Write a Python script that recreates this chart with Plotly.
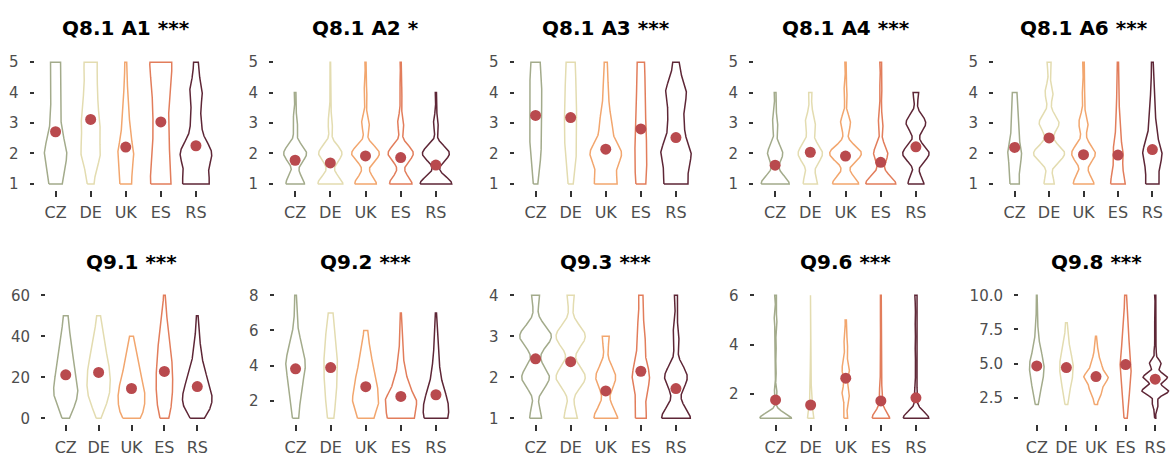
import numpy as np
import plotly.graph_objects as go

# ---------------------------------------------------------------- data
countries = ["CZ", "DE", "UK", "ES", "RS"]

panel_titles = ["Q8.1 A1 ***", "Q8.1 A2 *", "Q8.1 A3 ***", "Q8.1 A4 ***", "Q8.1 A6 ***",
                "Q9.1 ***", "Q9.2 ***", "Q9.3 ***", "Q9.6 ***", "Q9.8 ***"]

# answer levels of each question
likert5_levels = [1, 2, 3, 4, 5]
q91_levels = [0, 5, 10, 15, 20, 25, 30, 35, 40, 45, 50, 55, 60]
q92_levels = [1, 2, 3, 4, 5, 6, 7, 8]
q93_levels = [1, 2, 3, 4]
q96_levels = [1, 2, 3, 4, 5, 6]
q98_levels = [1, 2, 3, 4, 5, 6, 7, 8, 9, 10]

# number of respondents per answer level, one row per country (CZ, DE, UK, ES, RS)
q81_a1_counts = [[22, 40, 16, 16, 18], [10, 32, 30, 22, 22], [19, 26, 12, 6, 3],
                 [38, 28, 25, 28, 41], [42, 50, 15, 20, 7]]
q81_a2_counts = [[35, 43, 9, 3, 0], [46, 43, 8, 2, 1], [39, 50, 14, 5, 2],
                 [41, 46, 11, 5, 2], [54, 46, 8, 2, 0]]
q81_a3_counts = [[6, 16, 18, 18, 14], [7, 17, 18, 16, 14], [30, 42, 16, 8, 4],
                 [16, 18, 14, 12, 12], [34, 43, 21, 30, 8]]
q81_a4_counts = [[48, 26, 9, 3, 0], [27, 46, 19, 6, 0], [42, 51, 16, 5, 2],
                 [51, 24, 8, 4, 3], [26, 43, 32, 9, 0]]
q81_a6_counts = [[16, 24, 12, 8, 0], [13, 39, 25, 10, 5], [27, 31, 12, 3, 2],
                 [25, 17, 8, 4, 2], [23, 34, 12, 6, 3]]
q91_counts = [[2, 8, 12, 12, 10, 8, 7, 5, 4, 3, 3, 0, 0],
              [1, 6, 10, 11, 11, 10, 8, 6, 4, 3, 2, 0, 0],
              [10, 12, 13, 12, 9, 7, 5, 3, 2, 0, 0, 0, 0],
              [5, 7, 7, 8, 8, 7, 7, 6, 5, 3, 2, 1, 1],
              [6, 14, 15, 12, 9, 6, 4, 3, 2, 1, 1, 0, 0]]
q92_counts = [[7, 9, 14, 22, 15, 5, 2, 2], [7, 10, 13, 14, 13, 9, 5, 0],
              [17, 28, 23, 15, 8, 4, 0, 0], [29, 33, 15, 7, 3, 2, 1, 0],
              [28, 25, 12, 7, 4, 3, 1, 0]]
q93_counts = [[15, 35, 40, 10], [17, 37, 37, 9], [31, 26, 9, 0],
              [18, 29, 14, 7], [38, 30, 8, 4]]
q96_counts = [[55, 5, 3, 3, 5, 3], [18, 5, 2, 0, 0, 1], [9, 18, 18, 9, 3, 0],
              [42, 8, 4, 3, 2, 2], [58, 7, 4, 4, 4, 5]]
q98_counts = [[0, 3, 9, 16, 19, 9, 4, 2, 1, 1], [0, 3, 8, 15, 17, 9, 4, 2, 0, 0],
              [0, 3, 14, 28, 12, 4, 1, 0, 0, 0], [4, 7, 9, 13, 15, 10, 7, 4, 3, 3],
              [1, 5, 23, 21, 10, 2, 1, 1, 0, 1]]

# y-axis ticks per question
likert5_ticks = [1, 2, 3, 4, 5]
q91_ticks = [0, 20, 40, 60]
q92_ticks = [2, 4, 6, 8]
q93_ticks = [1, 2, 3, 4]
q96_ticks = [2, 4, 6]
q98_ticks = [2.5, 5.0, 7.5, 10.0]
q98_tick_text = ["2.5", "5.0", "7.5", "10.0"]

panel_levels = [likert5_levels] * 5 + [q91_levels, q92_levels, q93_levels, q96_levels, q98_levels]
panel_counts = [q81_a1_counts, q81_a2_counts, q81_a3_counts, q81_a4_counts, q81_a6_counts,
                q91_counts, q92_counts, q93_counts, q96_counts, q98_counts]
panel_ticks = [likert5_ticks] * 5 + [q91_ticks, q92_ticks, q93_ticks, q96_ticks, q98_ticks]
panel_tick_text = [[str(t) for t in likert5_ticks]] * 5 + [
    [str(t) for t in q91_ticks], [str(t) for t in q92_ticks],
    [str(t) for t in q93_ticks], [str(t) for t in q96_ticks], q98_tick_text]

# ---------------------------------------------------------------- style
line_colors = ["#a3ab8b", "#e3dcb0", "#f2a66e", "#e27d5b", "#5e2636"]
mean_color = "#b94a4e"
W, H = 1173, 457
FONT = "DejaVu Sans, Verdana, sans-serif"
VIOLIN_WIDTH = 0.9       # width of the widest violin in a panel, in category units
N_GRID = 512

# plot-area extents in pixels (left, right) for each panel; rows (top, bottom)
x_px = [(34.5, 217), (274, 457), (514.5, 697), (754, 937), (994, 1173),
        (46, 217), (274.5, 457), (514.5, 697), (754.5, 937), (1019, 1173)]
row_px = [(53.8, 189.5), (290, 427)]
title_y_px = [25, 262]


def nrd0(x):
    """Silverman's rule of thumb as in R's bw.nrd0."""
    hi = x.std(ddof=1)
    q75, q25 = np.percentile(x, [75, 25])
    lo = min(hi, (q75 - q25) / 1.34)
    if not lo:
        lo = hi or abs(x[0]) or 1.0
    return 0.9 * lo * len(x) ** -0.2


def trimmed_kde(x):
    """Gaussian KDE evaluated between the sample minimum and maximum."""
    bw = nrd0(x)
    grid = np.linspace(x.min(), x.max(), N_GRID)
    z = (grid[:, None] - x[None, :]) / bw
    dens = np.exp(-0.5 * z ** 2).sum(axis=1) / (len(x) * bw * np.sqrt(2 * np.pi))
    return grid, dens


fig = go.Figure()
layout = dict(width=W, height=H, margin=dict(l=0, r=0, t=0, b=0),
              paper_bgcolor="white", plot_bgcolor="white",
              showlegend=False, annotations=[])

for p in range(10):
    suffix = "" if p == 0 else str(p + 1)
    xa, ya = "x" + suffix, "y" + suffix
    levels = panel_levels[p]

    samples = [np.repeat(levels, cnt).astype(float) for cnt in panel_counts[p]]
    kdes = [trimmed_kde(s) for s in samples]
    # violin widths follow count x density, widest violin of the panel = VIOLIN_WIDTH
    weighted = [len(s) * d for s, (_, d) in zip(samples, kdes)]
    wmax = max(w.max() for w in weighted)

    for c, country in enumerate(countries):
        grid = kdes[c][0]
        half = 0.5 * VIOLIN_WIDTH * weighted[c] / wmax
        xs = np.concatenate([c - half, (c + half)[::-1], [c - half[0]]])
        ys = np.concatenate([grid, grid[::-1], [grid[0]]])
        fig.add_trace(go.Scatter(
            x=xs, y=ys, xaxis=xa, yaxis=ya, mode="lines",
            line=dict(color=line_colors[c], width=1.5),
            fill="toself", fillcolor="rgba(255,255,255,0)",
            hoverinfo="skip", showlegend=False))
    fig.add_trace(go.Scatter(
        x=list(range(len(countries))), y=[s.mean() for s in samples],
        xaxis=xa, yaxis=ya, mode="markers",
        marker=dict(color=mean_color, size=11, line=dict(width=0)),
        cliponaxis=False, hoverinfo="skip", showlegend=False))

    lo = min(s.min() for s in samples)
    hi = max(s.max() for s in samples)
    pad = (hi - lo) * 0.05
    row = p // 5
    x0, x1 = x_px[p]
    top, bot = row_px[row]
    layout["xaxis" + suffix] = dict(
        domain=[x0 / W, x1 / W], anchor=ya, range=[-0.6, 4.6],
        tickmode="array", tickvals=list(range(len(countries))), ticktext=countries,
        showline=False, showgrid=False, zeroline=False,
        ticks="outside", ticklen=6, tickwidth=2, tickcolor="#333333",
        ticklabelstandoff=2,
        tickfont=dict(family=FONT, size=16, color="#4d4d4d"), fixedrange=True)
    layout["yaxis" + suffix] = dict(
        domain=[1 - bot / H, 1 - top / H], anchor=xa,
        range=[lo - pad, hi + pad], tickmode="array",
        tickvals=panel_ticks[p], ticktext=panel_tick_text[p],
        showline=False, showgrid=False, zeroline=False,
        ticks="outside", ticklen=4, tickwidth=2, tickcolor="#333333",
        ticklabelstandoff=8,
        tickfont=dict(family=FONT, size=15, color="#4d4d4d"), fixedrange=True)
    layout["annotations"].append(dict(
        text=panel_titles[p], xref="paper", yref="paper",
        x=(x0 + x1) / 2 / W, y=1 - title_y_px[row] / H,
        xanchor="center", yanchor="middle", showarrow=False,
        font=dict(family=FONT, size=20, color="black", weight="bold")))

fig.update_layout(**layout)
fig.write_html("out.html")
